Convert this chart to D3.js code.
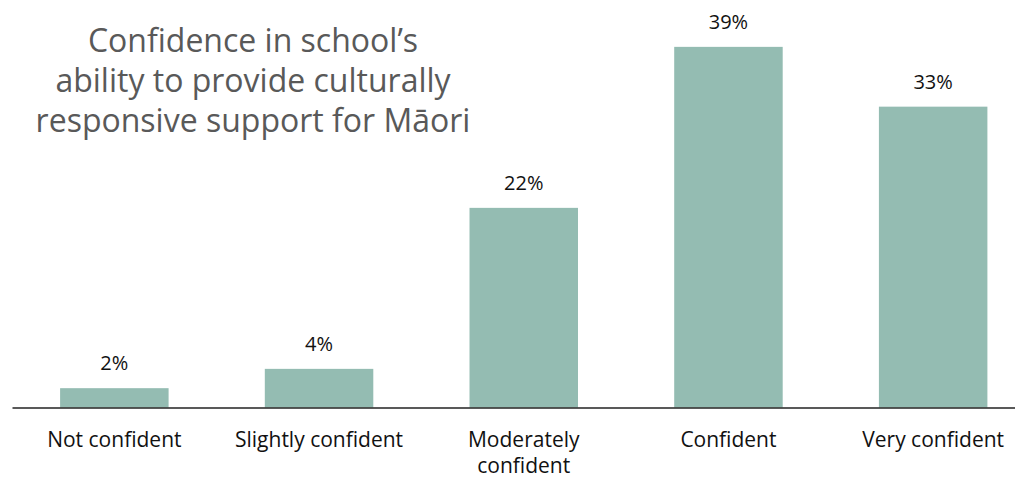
<!DOCTYPE html>
<html>
<head>
<meta charset="utf-8">
<script src="https://cdnjs.cloudflare.com/ajax/libs/d3/7.8.5/d3.min.js"></script>
<style>
    body { margin: 0; background: #fff; }
    text { font-family: "Open Sans", sans-serif; }
</style>
</head>
<body>
<div class="container"></div>
<script>
var categories = ['Not confident', 'Slightly confident', 'Moderately confident', 'Confident', 'Very confident'];
var values = [2.1, 4.2, 21.7, 39.2, 32.7];
var titleLines = ['Confidence in school\u2019s', 'ability to provide culturally', 'responsive support for M\u0101ori'];

const WIDTH = 1015;
const HEIGHT = 478;
const BASELINE = 407.5;

var svg = d3.select('.container').append('svg')
    .attr('width', WIDTH)
    .attr('height', HEIGHT);

var xScale = d3.scaleBand()
    .domain(categories)
    .range([12, 1035.5])
    .paddingInner(0.47)
    .paddingOuter(0.235);

var yScale = d3.scaleLinear()
    .domain([0, 40])
    .range([BASELINE, BASELINE - 368]);

svg.selectAll('rect.bar')
    .data(values)
    .enter().append('rect')
    .attr('class', 'bar')
    .attr('x', function (d, i) { return xScale(categories[i]); })
    .attr('width', xScale.bandwidth())
    .attr('y', function (d) { return yScale(d); })
    .attr('height', function (d) { return BASELINE - yScale(d); })
    .attr('fill', '#94bcb2');

svg.selectAll('text.value')
    .data(values)
    .enter().append('text')
    .attr('class', 'value')
    .attr('x', function (d, i) { return xScale(categories[i]) + xScale.bandwidth() / 2; })
    .attr('y', function (d) { return yScale(d) - 18; })
    .attr('text-anchor', 'middle')
    .attr('font-size', 20)
    .attr('fill', '#111')
    .text(function (d) { return d3.format('.0f')(d) + '%'; });

// x axis without ticks, labels wrapped by hand
var xAxis = d3.axisBottom(xScale).tickSize(0).tickPadding(0).tickFormat('');
svg.append('g')
    .attr('transform', 'translate(0,' + BASELINE + ')')
    .call(xAxis)
    .call(function (g) { g.select('.domain').attr('stroke', '#222').attr('stroke-width', 1.5); });

var wrapped = {'Moderately confident': ['Moderately', 'confident']};
categories.forEach(function (c) {
    var lines = wrapped[c] || [c];
    var t = svg.append('text')
        .attr('text-anchor', 'middle')
        .attr('font-size', 21)
        .attr('fill', '#111')
        .attr('x', xScale(c) + xScale.bandwidth() / 2)
        .attr('y', 447);
    lines.forEach(function (l, i) {
        t.append('tspan')
            .attr('x', xScale(c) + xScale.bandwidth() / 2)
            .attr('dy', i === 0 ? 0 : 26)
            .text(l);
    });
});

var title = svg.append('text')
    .attr('text-anchor', 'middle')
    .attr('font-size', 32)
    .attr('fill', '#595959')
    .attr('y', 52);
titleLines.forEach(function (l, i) {
    title.append('tspan')
        .attr('x', 253)
        .attr('dy', i === 0 ? 0 : 40)
        .text(l);
});
</script>
</body>
</html>
